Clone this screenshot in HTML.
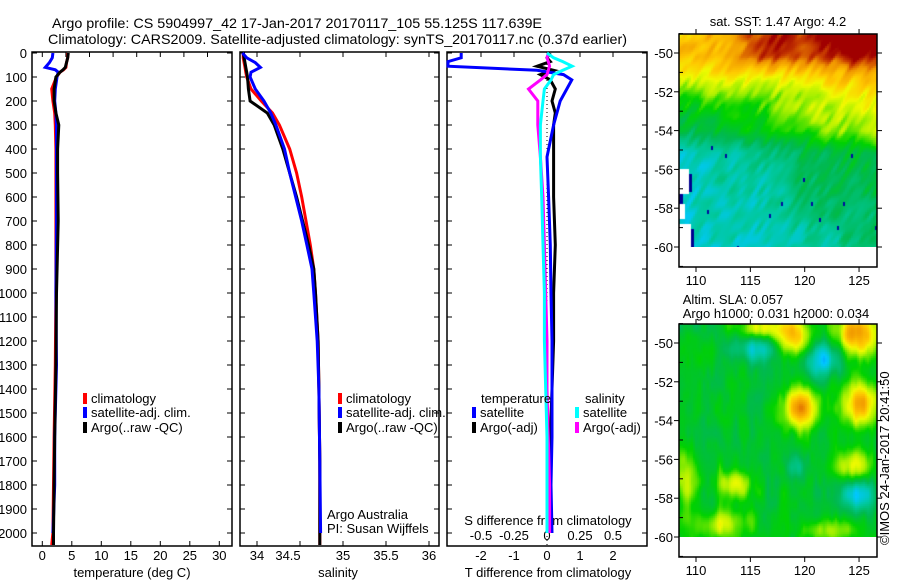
<!DOCTYPE html>
<html><head><meta charset="utf-8">
<style>
html,body{margin:0;padding:0;background:#fff;}
#wrap{position:relative;width:900px;height:580px;overflow:hidden;font-family:"Liberation Sans",sans-serif;}
canvas{position:absolute;}
svg{position:absolute;left:0;top:0;}
text{font-family:"Liberation Sans",sans-serif;font-size:13px;fill:#000;}
</style></head>
<body>
<div id="wrap">
<canvas id="sst" width="198" height="213" style="left:679px;top:34px"></canvas>
<canvas id="sla" width="198" height="213" style="left:679px;top:324px"></canvas>
<svg id="svg" width="900" height="580">
<text x="52" y="28" textLength="490" lengthAdjust="spacingAndGlyphs" style="font-size:14px">Argo profile: CS 5904997_42 17-Jan-2017 20170117_105 55.125S 117.639E</text>
<text x="48" y="44" textLength="579" lengthAdjust="spacingAndGlyphs" style="font-size:14px">Climatology: CARS2009. Satellite-adjusted climatology: synTS_20170117.nc (0.37d earlier)</text>
<text x="778" y="26" text-anchor="middle">sat. SST: 1.47 Argo: 4.2</text>
<text x="733" y="304" text-anchor="middle">Altim. SLA: 0.057</text>
<text x="776" y="318" text-anchor="middle">Argo h1000: 0.031 h2000: 0.034</text>
<text transform="translate(889,545) rotate(-90)">©IMOS 24-Jan-2017 20:41:50</text>
<g id="g"></g>
</svg>
</div>
<script>
// ---------- data ----------
const tDepth = [0,20,40,60,70,80,100,150,200,250,300,400,500,700,1000,1300,1600,1800,2000,2050];
const climT  = [4.3,4.3,4.1,4.0,3.6,3.0,2.4,1.6,1.8,2.1,2.2,2.3,2.3,2.3,2.3,2.2,2.0,1.9,1.8,1.6];
const satT   = [1.8,1.7,1.2,0.5,2.2,2.7,2.5,2.2,2.1,2.3,2.4,2.4,2.4,2.4,2.3,2.4,2.1,2.1,1.8];
const argoT  = [4.4,4.3,4.1,3.9,3.5,3.0,2.3,2.0,2.0,2.3,2.8,2.6,2.6,2.7,2.4,2.3,2.1,2.0,1.9,1.9];
const sDepth = [0,20,40,60,80,100,150,200,250,300,400,500,600,700,800,900,1000,1200,1400,1700,2000,2050];
const climS  = [33.84,33.84,33.85,33.86,33.87,33.88,33.93,34.05,34.18,34.26,34.38,34.46,34.52,34.57,34.62,34.66,34.68,34.71,34.72,34.73,34.73,34.73];
const satS   = [33.83,33.88,33.98,34.04,33.93,33.92,33.98,34.08,34.16,34.22,34.32,34.38,34.45,34.52,34.58,34.64,34.66,34.70,34.72,34.73,34.74];
const argoS  = [33.84,33.85,33.86,33.87,33.88,33.89,33.90,33.92,34.12,34.20,34.30,34.38,34.46,34.53,34.60,34.66,34.68,34.71,34.72,34.73,34.73,34.73];
const dDepth = [0,20,36,55,72,90,112,150,200,250,300,433,600,800,1000,1200,1400,1600,1800,2000];
const satTd  = [-2.6,-2.6,-3.0,-3.0,-0.3,0.5,0.75,0.6,0.4,0.3,0.2,0.0,0.05,0.1,0.12,0.15,0.15,0.15,0.12,0.15];
const argoTd = [0.1,0.0,0.1,-0.3,0.2,-0.2,0.1,0.25,0.15,0.25,0.2,0.2,0.2,0.25,0.2,0.2,0.15,0.1,0.1,0.1];
const satSd  = [0,0.05,0.12,0.19,0.12,0.05,0.03,-0.02,-0.03,-0.04,-0.05,-0.05,-0.04,-0.03,-0.02,-0.02,-0.01,0,0,0];
const argoSd = [0.01,0,0.01,0.02,0.01,0.0,-0.05,-0.14,-0.07,-0.07,-0.07,-0.05,-0.03,-0.02,-0.01,0,0,0.01,0.02,0.02];
const depthTicks = [0,100,200,300,400,500,600,700,800,900,1000,1100,1200,1300,1400,1500,1600,1700,1800,1900,2000];
const tempTicks = [0,5,10,15,20,25,30];
const salTicks = [34,34.5,35,35.5,36];
const tdTicks = [-2,-1,0,1,2];
const sdTicks = [-0.5,-0.25,0,0.25,0.5];
const latTicks = [-50,-52,-54,-56,-58,-60];
const lonTicks = [110,115,120,125];

// ---------- axes ----------
const Y = d => 53 + d*0.24;
const XT = v => 42.3 + v*5.9;
const XS = v => 257 + (v-34)*86;
const XTd = v => 547 + v*33;
const XSd = v => 547 + v*132;
const yTop=52, yBot=546;
const NS='http://www.w3.org/2000/svg';
const g=document.getElementById('g');
function el(tag,attrs,parent){const e=document.createElementNS(NS,tag);for(const k in attrs)e.setAttribute(k,attrs[k]);(parent||g).appendChild(e);return e;}
function txt(x,y,s,anchor,parent){const t=el('text',{x:x,y:y,'text-anchor':anchor||'start'},parent);t.textContent=s;return t;}

function frame(x0,x1,name){
  const r=el('rect',{x:x0,y:yTop,width:x1-x0,height:yBot-yTop,fill:'none',stroke:'#000','stroke-width':1.5});
  
  
  depthTicks.forEach(d=>{
    el('line',{x1:x0,x2:x0+5,y1:Y(d),y2:Y(d),stroke:'#000'});
    el('line',{x1:x1-5,x2:x1,y1:Y(d),y2:Y(d),stroke:'#000'});
  });
}
function line(xs,ds,fx,color,name,w){
  const pts=xs.map((v,i)=>fx(v).toFixed(1)+','+Y(ds[i]).toFixed(1)).join(' ');
  const p=el('polyline',{points:pts,fill:'none',stroke:color,'stroke-width':w||3,'stroke-linejoin':'miter'});
  
  
}
function legend(x,y,color,label,name){
  const gg=el('g',{});
  
  
  el('rect',{x:x,y:y-10,width:4,height:11,fill:color},gg);
  txt(x+8,y,label,'start',gg);
}

// panel 1 temperature
frame(32,232,'temperature-panel');
depthTicks.forEach(d=>{const t=txt(27,Y(d)+5,String(d),'end');});
tempTicks.forEach(v=>{el('line',{x1:XT(v),x2:XT(v),y1:yBot,y2:yBot-5,stroke:'#000'});txt(XT(v),yBot+14,String(v),'middle');});
[0,4,8,12,16,20,24,28].forEach(v=>el('line',{x1:XT(v),x2:XT(v),y1:yTop,y2:yTop+5,stroke:'#000'}));
txt(132,577,'temperature (deg C)','middle');
line(climT,tDepth,XT,'#ff0000','climatology-temperature');
line(satT,tDepth.slice(0,satT.length),XT,'#0000ff','satellite-temperature');
line(argoT,tDepth,XT,'#000000','argo-temperature');
legend(83,403,'#ff0000','climatology','legend-climatology-t');
legend(83,417,'#0000ff','satellite-adj. clim.','legend-satellite-t');
legend(83,432,'#000000','Argo(..raw -QC)','legend-argo-t');

// panel 2 salinity
frame(240,439,'salinity-panel');
salTicks.forEach(v=>{el('line',{x1:XS(v),x2:XS(v),y1:yBot,y2:yBot-5,stroke:'#000'});el('line',{x1:XS(v),x2:XS(v),y1:yTop,y2:yTop+5,stroke:'#000'});txt(XS(v)-(v==34.5?12:0),yBot+14,String(v),'middle');});
txt(338,577,'salinity','middle');
line(climS,sDepth,XS,'#ff0000','climatology-salinity');
line(argoS,sDepth,XS,'#000000','argo-salinity');
line(satS,sDepth.slice(0,satS.length),XS,'#0000ff','satellite-salinity');
legend(338,403,'#ff0000','climatology','legend-climatology-s');
legend(338,417,'#0000ff','satellite-adj. clim.','legend-satellite-s');
legend(338,432,'#000000','Argo(..raw -QC)','legend-argo-s');
txt(327,519,'Argo Australia','start');
txt(327,533,'PI: Susan Wijffels','start');

// panel 3 differences
frame(447,647,'difference-panel');
tdTicks.forEach(v=>{el('line',{x1:XTd(v),x2:XTd(v),y1:yTop,y2:yTop+5,stroke:'#000'});txt(XTd(v),560,String(v),'middle');});
sdTicks.forEach(v=>{txt(XSd(v),540,String(v),'middle');});
txt(548,525,'S difference from climatology','middle');
txt(548,577,'T difference from climatology','middle');
el('line',{x1:XTd(0),x2:XTd(0),y1:yTop,y2:yBot,stroke:'#000','stroke-dasharray':'1,3'});
line(argoTd,dDepth,XTd,'#000000','argo-temperature-diff');
line(satTd,dDepth,XTd,'#0000ff','satellite-temperature-diff');
line(argoSd,dDepth,XSd,'#ff00ff','argo-salinity-diff');
line(satSd,dDepth,XSd,'#00ffff','satellite-salinity-diff');
txt(481,403,'temperature','start');
txt(585,403,'salinity','start');
legend(472,417,'#0000ff','satellite','legend-satellite-tdiff');
legend(472,432,'#000000','Argo(-adj)','legend-argo-tdiff');
legend(575,417,'#00ffff','satellite','legend-satellite-sdiff');
legend(575,432,'#ff00ff','Argo(-adj)','legend-argo-sdiff');

// maps frames
const LX = lo => 696 + (lo-110)*10.87;
function mapFrame(y0,name){
  const LY = la => y0+19 + (-50-la)*19.4;
  const r=el('rect',{x:679,y:y0,width:198,height:233,fill:'none',stroke:'#000','stroke-width':1.5});
  
  
  latTicks.forEach(la=>{el('line',{x1:674,x2:679,y1:LY(la),y2:LY(la),stroke:'#000'});el('line',{x1:877,x2:882,y1:LY(la),y2:LY(la),stroke:'#000'});txt(673,LY(la)+5,String(la),'end');});
  [-49,-51,-53,-55,-57,-59,-61].forEach(la=>{el('line',{x1:679,x2:683,y1:LY(la),y2:LY(la),stroke:'#000'});});
  lonTicks.forEach(lo=>{el('line',{x1:LX(lo),x2:LX(lo),y1:y0+233,y2:y0+238,stroke:'#000'});el('line',{x1:LX(lo),x2:LX(lo),y1:y0-5,y2:y0,stroke:'#000'});txt(LX(lo),y0+251,String(lo),'middle');});
}
mapFrame(34,'sst-map-frame');
mapFrame(324,'sla-map-frame');

// ---------- heatmaps (procedural texture) ----------
function hash(i,j){let h=(i*374761393+j*668265263)|0;h=Math.imul(h^(h>>>13),1274126177);return ((h^(h>>>16))>>>0)/4294967295;}
function vnoise(x,y){const i=Math.floor(x),j=Math.floor(y),fx=x-i,fy=y-j;const sx=fx*fx*(3-2*fx),sy=fy*fy*(3-2*fy);
  const a=hash(i,j),b=hash(i+1,j),c=hash(i,j+1),d=hash(i+1,j+1);return a+(b-a)*sx+(c-a)*sy+(a-b-c+d)*sx*sy;}
const stops=[[0,[0,0,140]],[0.12,[0,60,255]],[0.25,[0,200,255]],[0.35,[0,200,160]],[0.45,[0,185,80]],[0.55,[0,210,0]],[0.65,[170,240,0]],[0.72,[240,250,0]],[0.8,[255,200,0]],[0.88,[240,150,0]],[0.94,[200,60,0]],[1,[160,0,0]]];
function col(v){v=Math.max(0,Math.min(1,v));for(let k=1;k<stops.length;k++){if(v<=stops[k][0]){const a=stops[k-1][0],ca=stops[k-1][1],b=stops[k][0],cb=stops[k][1];const t=(v-a)/(b-a);return ca.map((c,i)=>Math.round(c+(cb[i]-c)*t));}}return stops[stops.length-1][1];}
function gauss(x,y,cx,cy,sx,sy){return Math.exp(-((x-cx)**2/(2*sx*sx)+(y-cy)**2/(2*sy*sy)));}
const profT=[0,0.1,0.2,0.3,0.45,0.55,0.7,1];
const profL=[0.82,0.80,0.70,0.55,0.45,0.33,0.30,0.27];
const profR=[0.90,0.88,0.78,0.72,0.68,0.50,0.47,0.40];
function interp(xs,ys,x){for(let k=1;k<xs.length;k++){if(x<=xs[k]){const f=(x-xs[k-1])/(xs[k]-xs[k-1]);return ys[k-1]+(ys[k]-ys[k-1])*f;}}return ys[ys.length-1];}
(function(){
  const c=document.getElementById('sst').getContext('2d');
  for(let y=0;y<213;y+=2)for(let x=0;x<198;x+=2){
    const t=y/213,u=x/198;
    let v=interp(profT,profL,t)*(1-u)+interp(profT,profR,t)*u;
    v+=0.1*(vnoise((x+y*0.6)/5,y/12)-0.5)+0.06*(vnoise(x/25,y/25)-0.5);
    v+=0.16*gauss(x,y,95,8,22,14)+0.18*gauss(x,y,175,10,30,18);
    const n=hash(x>>1,y>>2);
    if(y>110&&n<0.004)v=0.02;
    const k=col(v);c.fillStyle='rgb('+k.join(',')+')';
    c.fillRect(x,y,2,2);
  }
  c.fillStyle='#fff';c.fillRect(0,135,10,25);c.fillRect(0,170,6,15);c.fillRect(0,190,12,23);
  c.fillStyle='#000090';c.fillRect(0,160,4,10);c.fillRect(10,140,3,18);c.fillRect(12,195,3,18);
})();
(function(){
  const c=document.getElementById('sla').getContext('2d');
  const blobs=[[114,12,14,14,0.33],[178,10,16,16,0.38],[78,4,14,8,0.22],[121,83,12,14,0.36],[181,79,14,16,0.34],[174,141,14,12,0.22],[54,159,12,10,0.2],[5,151,10,20,0.2],[78,23,16,10,-0.2],[141,34,14,14,-0.25],[178,169,12,12,-0.22],[113,141,8,10,-0.12],[40,200,20,10,0.18],[150,205,20,8,0.16]];
  for(let y=0;y<213;y+=2)for(let x=0;x<198;x+=2){
    let v=0.5+0.08*(vnoise(x/8,y/28)-0.5)+0.05*(vnoise(x/4,y/12)-0.5);
    blobs.forEach(b=>{v+=b[4]*gauss(x,y,b[0],b[1],b[2],b[3]);});
    const k=col(v);c.fillStyle='rgb('+k.join(',')+')';c.fillRect(x,y,2,2);
  }
})();
</script>
</body></html>
